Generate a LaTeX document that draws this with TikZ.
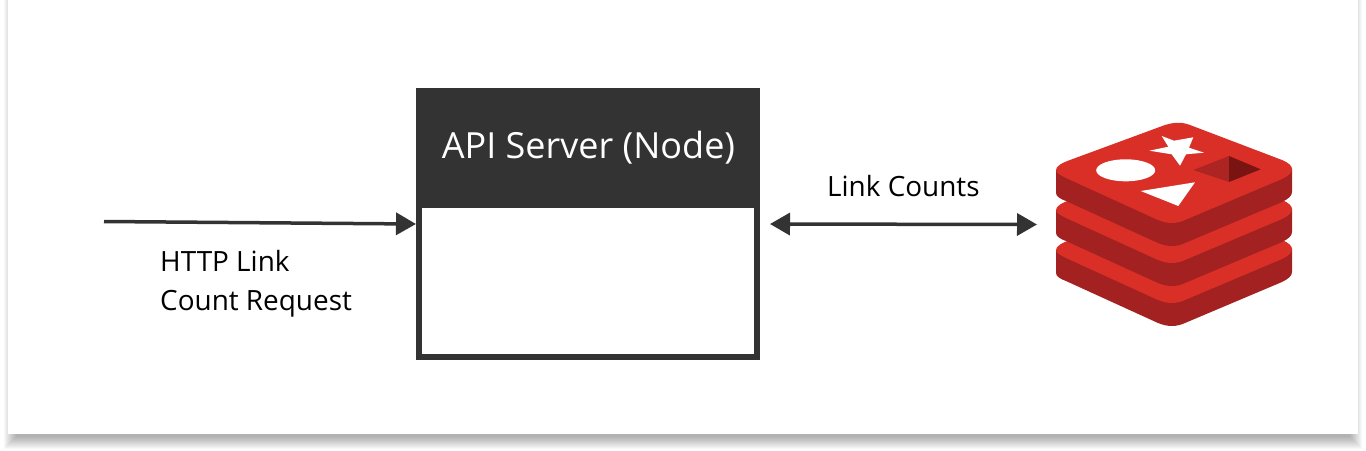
\documentclass[tikz,border=0pt]{standalone}
\usepackage{fontspec}
\setmainfont{Open Sans}
\usetikzlibrary{arrows.meta}
\definecolor{boxgray}{HTML}{333333}
\definecolor{redislight}{HTML}{D92F27}
\definecolor{redisdark}{HTML}{A32120}
\definecolor{holeleft}{HTML}{AD2522}
\definecolor{holeright}{HTML}{7A1413}
\tikzset{
    link/.style={draw=boxgray, line width=3.5pt, -{Triangle[length=20pt, width=22pt]}},
    biglink/.style={link, {Triangle[length=20pt, width=22pt]}-{Triangle[length=20pt, width=22pt]}},
    label/.style={text=black, font=\fontsize{27.9}{39}\selectfont, align=left, inner sep=0pt},
}
\begin{document}
\begin{tikzpicture}[x=1pt, y=-1pt]
    \useasboundingbox (0,0) rectangle (1366,450);
    % card and its shadow
    \foreach \e in {0,...,12}
        \fill[black, opacity=0.026] (16-\e,0) rectangle (1350+\e,437+\e);
    \fill[white] (8,0) rectangle (1358,434);

    % server box
    \node[draw=boxgray, line width=6pt, fill=white, minimum width=338pt, minimum height=266pt, inner sep=0pt] (server) at (588,224) {};
    \node[fill=boxgray, text=white, minimum width=343pt, minimum height=120pt, inner sep=0pt, font=\fontsize{36}{40}\selectfont] (header) at (588.5,148) {API Server (Node)};

    % redis logo
    \foreach \d in {80,40,0} {
        \begin{scope}[shift={(0,\d)}]
            \fill[redisdark] (1056,170) -- (1056,193) .. controls (1056,196) and (1060,199) .. (1066,201) -- (1158,243) .. controls (1168,247) and (1176,247) .. (1185,243) -- (1282,202) .. controls (1288,199) and (1292,196) .. (1292,192) -- (1292,169) -- cycle;
            \fill[redislight] (1056,170) .. controls (1056,166) and (1062,163) .. (1070,160) -- (1165,125) .. controls (1175,122) and (1182,122) .. (1190,125) -- (1282,160) .. controls (1289,163) and (1292,166) .. (1292,169) .. controls (1292,173) and (1288,176) .. (1282,179) -- (1185,220) .. controls (1176,224) and (1168,224) .. (1158,220) -- (1066,178) .. controls (1060,175) and (1056,173) .. (1056,170) -- cycle;
        \end{scope}
    }
    \fill[white] (1161.7,136) -- (1174,140.7) -- (1193.3,137.3) -- (1189,147.7) -- (1204,152.7) -- (1186,154.3) -- (1180,165.7) -- (1171.7,154.3) -- (1149.3,150.7) -- (1168.3,146.7) -- cycle;
    \fill[white] (1125.7,170.3) ellipse (29.5 and 11);
    \fill[white] (1140.7,191) -- (1195,182.3) -- (1178.3,206) -- cycle;
    \fill[holeleft] (1193.3,170) -- (1229,156) -- (1229,182) -- cycle;
    \fill[holeright] (1229,156) -- (1260.7,169.3) -- (1229,182) -- cycle;

    % connectors
    \coordinate (client) at (104,221.5);
    \coordinate (redis) at (1037,224.5);
    \draw[link] (client) -- (server.west);
    \draw[biglink, shorten <=10pt] (server.east) -- (redis);

    % labels
    \node[label, anchor=base west] (httplabel) at (160,310) {HTTP Link\\Count Request};
    \node[label, anchor=base west] (countlabel) at (827,196) {Link Counts};
\end{tikzpicture}
\end{document}
